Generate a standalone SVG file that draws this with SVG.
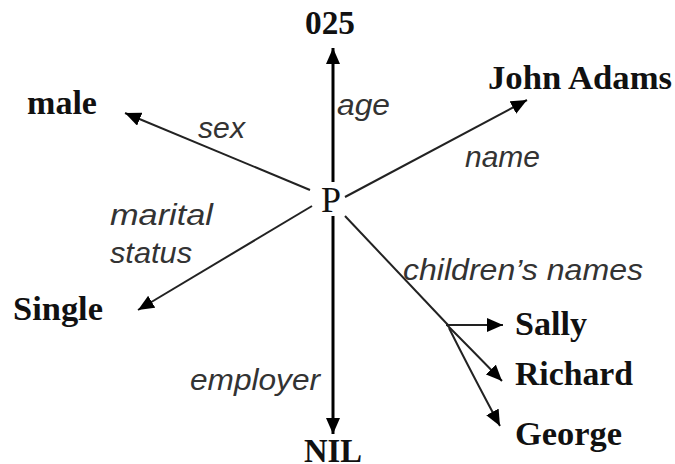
<svg xmlns="http://www.w3.org/2000/svg" width="675" height="464" viewBox="0 0 675 464">
<style>
.node{font-family:"Liberation Serif","Times New Roman",serif;font-weight:bold;font-size:33px;fill:#111;}
.p{font-family:"Liberation Serif","Times New Roman",serif;font-size:36px;fill:#111;}
.lbl{font-family:"Liberation Sans",Arial,sans-serif;font-style:italic;font-size:30px;fill:#333;}
.c{stroke:#222;stroke-width:2;fill:none;}
.v{stroke:#000;stroke-width:3;fill:none;}
</style>
<defs>
<marker id="ah" markerUnits="userSpaceOnUse" markerWidth="18" markerHeight="14" refX="16" refY="7" orient="auto">
<path d="M0,0 L16,7 L0,14 Z" fill="#000"/>
</marker>
</defs>
<rect width="675" height="464" fill="#fff"/>
<g id="connectors">
<line class="v" x1="333" y1="182" x2="333" y2="48" marker-end="url(#ah)"/>
<line class="v" x1="333" y1="216" x2="333" y2="434" marker-end="url(#ah)"/>
<line class="c" x1="310" y1="190" x2="125" y2="113" marker-end="url(#ah)"/>
<line class="c" x1="312" y1="206" x2="138" y2="310" marker-end="url(#ah)"/>
<line class="c" x1="345" y1="197" x2="527" y2="100" marker-end="url(#ah)"/>
<line class="c" x1="345" y1="216" x2="448" y2="325"/>
<line class="c" x1="446" y1="325" x2="503" y2="325" marker-end="url(#ah)"/>
<path class="c" d="M447,325 Q470,348 502,381" marker-end="url(#ah)"/>
<path class="c" d="M449,328 Q470,370 500,426" marker-end="url(#ah)"/>
</g>
<g id="P"><text class="p" x="331" y="212" text-anchor="middle">P</text></g>
<g id="n025"><text class="node" x="330" y="34" text-anchor="middle" textLength="50" lengthAdjust="spacingAndGlyphs">025</text></g>
<g id="male"><text class="node" x="27" y="114" textLength="70" lengthAdjust="spacingAndGlyphs">male</text></g>
<g id="johnadams"><text class="node" x="488" y="89" textLength="184" lengthAdjust="spacingAndGlyphs">John Adams</text></g>
<g id="single"><text class="node" x="13" y="320" textLength="90" lengthAdjust="spacingAndGlyphs">Single</text></g>
<g id="nil"><text class="node" x="333" y="462" text-anchor="middle" textLength="58" lengthAdjust="spacingAndGlyphs">NIL</text></g>
<g id="sally"><text class="node" x="515" y="335" textLength="72" lengthAdjust="spacingAndGlyphs">Sally</text></g>
<g id="richard"><text class="node" x="515" y="385" textLength="118" lengthAdjust="spacingAndGlyphs">Richard</text></g>
<g id="george"><text class="node" x="515" y="445" textLength="107" lengthAdjust="spacingAndGlyphs">George</text></g>
<g id="labels">
<text class="lbl" x="198" y="138" textLength="47" lengthAdjust="spacingAndGlyphs">sex</text>
<text class="lbl" x="337" y="115" textLength="53" lengthAdjust="spacingAndGlyphs">age</text>
<text class="lbl" x="465" y="167" textLength="75" lengthAdjust="spacingAndGlyphs">name</text>
<text class="lbl" x="110" y="225" textLength="103" lengthAdjust="spacingAndGlyphs">marital</text>
<text class="lbl" x="110" y="263" textLength="82" lengthAdjust="spacingAndGlyphs">status</text>
<text class="lbl" x="190" y="390" textLength="130" lengthAdjust="spacingAndGlyphs">employer</text>
<text class="lbl" x="403" y="280" textLength="240" lengthAdjust="spacingAndGlyphs">children’s names</text>
</g>
</svg>
